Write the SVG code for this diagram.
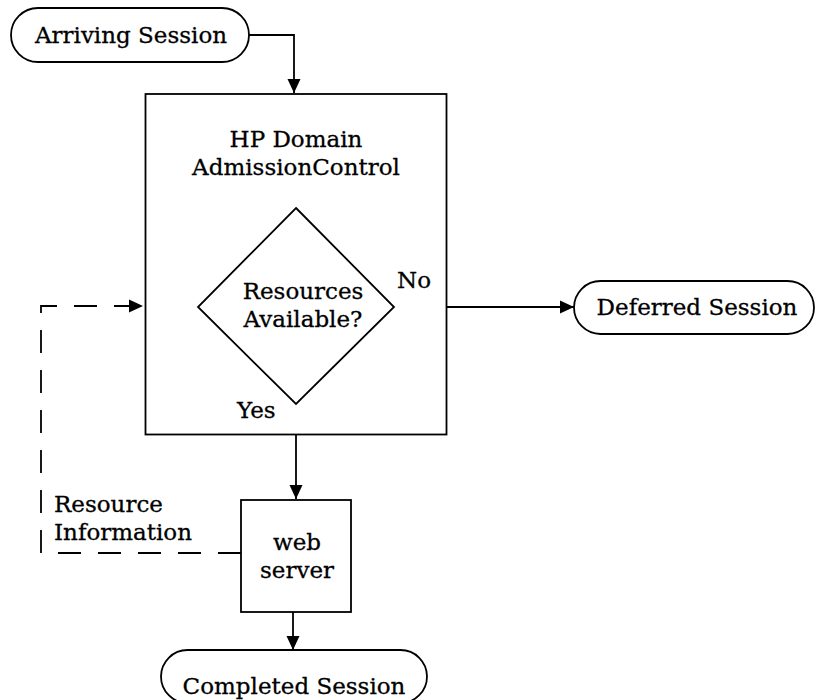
<svg xmlns="http://www.w3.org/2000/svg" width="816" height="700" viewBox="0 0 816 700">
<style>
  .shape { fill: #ffffff; stroke: #000000; stroke-width: 1.8; }
  .line { fill: none; stroke: #000000; stroke-width: 1.8; }
  .dash { fill: none; stroke: #000000; stroke-width: 1.8; stroke-dasharray: 23 17; }
  text { font-family: "DejaVu Serif", "Liberation Serif", serif; font-size: 23px; fill: #000000; stroke: #000000; stroke-width: 0.3; }
  .c { text-anchor: middle; }
</style>
<defs>
  <marker id="arrow" markerUnits="userSpaceOnUse" markerWidth="14" markerHeight="14" refX="14" refY="7" orient="auto" viewBox="0 0 14 14">
    <path d="M0,0.5 L14,7 L0,13.5 z" fill="#000000" stroke="none"/>
  </marker>
</defs>
<g id="connectors">
  <path class="line" d="M249,35 H294 V93" marker-end="url(#arrow)"/>
  <path class="line" d="M394,307 H574" marker-end="url(#arrow)"/>
  <path class="line" d="M296,404 V499" marker-end="url(#arrow)"/>
  <path class="line" d="M293,612 V650" marker-end="url(#arrow)"/>
  <path class="dash" d="M241,553 H41 V306 H143" marker-end="url(#arrow)"/>
</g>
<g id="arriving">
  <rect class="shape" x="11" y="8" width="238" height="54" rx="27" ry="27"/>
  <text class="c" x="131" y="43">Arriving Session</text>
</g>
<g id="admission">
  <rect class="shape" x="145.5" y="94" width="301" height="340.5"/>
  <text class="c" x="296" y="147">HP Domain<tspan x="296" y="174.5">AdmissionControl</tspan></text>
</g>
<g id="decision">
  <polygon class="shape" points="296,208 394,307 296,404 198,307"/>
  <text class="c" x="303" y="299">Resources<tspan x="303" y="326.5">Available?</tspan></text>
  <text x="397" y="288">No</text>
  <text x="237" y="418">Yes</text>
</g>
<g id="deferred">
  <rect class="shape" x="574" y="281" width="240" height="53" rx="26.5" ry="26.5"/>
  <text class="c" x="697" y="315">Deferred Session</text>
</g>
<g id="webserver">
  <rect class="shape" x="241" y="500" width="110" height="112"/>
  <text class="c" x="297" y="550">web<tspan x="297" y="577.5">server</tspan></text>
</g>
<g id="resource-info">
  <text x="54" y="512">Resource<tspan x="54" y="539.5">Information</tspan></text>
</g>
<g id="completed">
  <rect class="shape" x="161" y="650" width="266" height="53" rx="26.5" ry="26.5"/>
  <text class="c" x="294" y="694">Completed Session</text>
</g>
</svg>
